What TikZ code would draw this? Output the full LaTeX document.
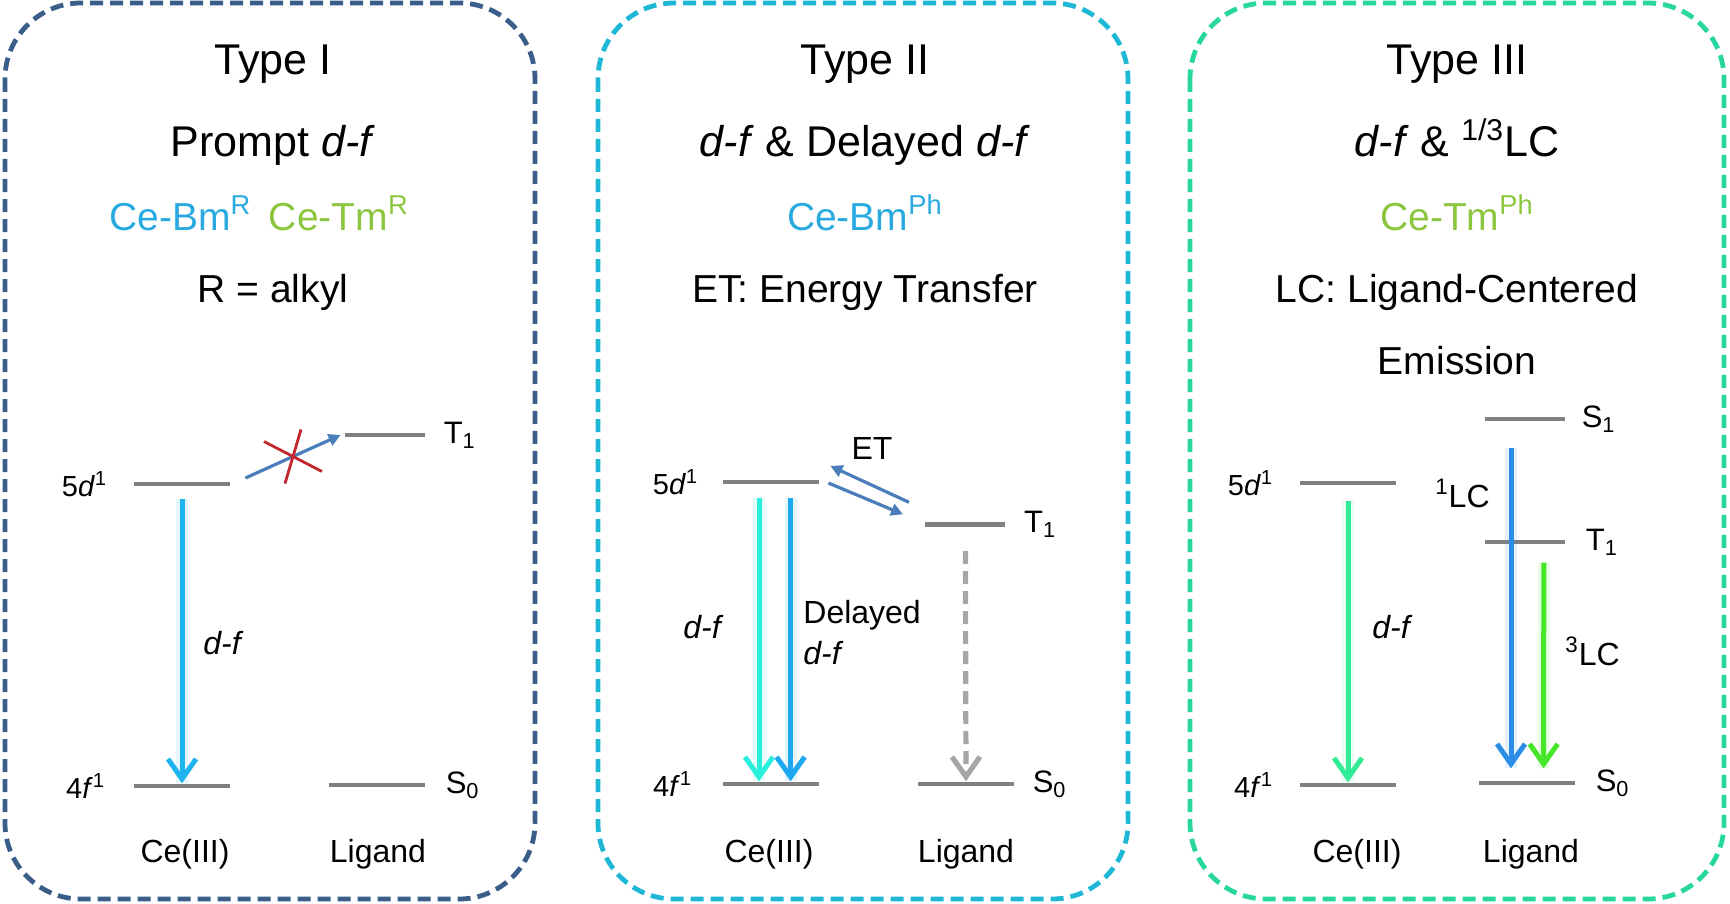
\documentclass[tikz,border=0pt]{standalone}
\usepackage{fontspec}
\setmainfont{Liberation Sans}
\usetikzlibrary{arrows.meta,positioning,calc}

\definecolor{boxone}{RGB}{58,93,138}
\definecolor{boxtwo}{RGB}{30,184,214}
\definecolor{boxthree}{RGB}{40,214,160}
\definecolor{bmblue}{RGB}{40,170,225}
\definecolor{tmgreen}{RGB}{140,198,63}
\definecolor{lvlgray}{RGB}{128,128,128}
\definecolor{nrgray}{RGB}{166,166,166}
\definecolor{etblue}{RGB}{74,126,187}
\definecolor{xred}{RGB}{192,40,45}
\definecolor{dfblue}{RGB}{30,180,240}
\definecolor{dfcyan}{RGB}{40,240,220}
\definecolor{dlblue}{RGB}{30,168,240}
\definecolor{dfgreen}{RGB}{50,235,150}
\definecolor{lcblue}{RGB}{45,140,230}
\definecolor{lcgreen}{RGB}{70,230,40}

\tikzset{
  frame/.style={draw=#1, line width=2.4pt, dash pattern=on 6.5pt off 3.5pt, rounded corners=38pt},
  lvl/.style={fill=lvlgray, inner sep=0pt, minimum height=2.3pt, minimum width=#1},
  title/.style={font=\fontsize{21.5}{25}\selectfont, anchor=base},
  sub/.style={font=\fontsize{19.5}{23}\selectfont, anchor=base},
  lbl/.style={font=\fontsize{16}{20.5}\selectfont, inner sep=0pt},
  st/.style={font=\fontsize{15.5}{19}\selectfont, inner sep=0pt},
  orb/.style={font=\fontsize{14.5}{18}\selectfont, inner sep=0pt},
  emit/.style={draw=#1, line width=2.5pt, -{Straight Barb[length=10pt,width=14pt]},
    preaction={draw=#1, line width=6pt, opacity=0.12, -}},
  etarr/.style={draw=etblue, line width=1.6pt, -{Triangle[length=6pt,width=6pt]}},
  nonrad/.style={draw=nrgray, line width=2.6pt, dash pattern=on 6.5pt off 3.5pt,
    -{Straight Barb[length=10pt,width=14pt]}},
  noway/.style={draw=xred, line width=1.4pt},
}

\begin{document}
\begin{tikzpicture}[x=0.5pt, y=-0.5pt]
\useasboundingbox (0,0) rectangle (1730,904);

% panels
\draw[frame=boxone] (5,3) rectangle (535,899);
\draw[frame=boxtwo] (598,3) rectangle (1128,899);
\draw[frame=boxthree] (1190,3) rectangle (1724,899);

% Type I
\node[title] (ta) at (273,75) {Type I};
\node[title] (pa) at (273,156) {Prompt \textit{d-f}};
\node[sub] (ca) at (259,230) {\textcolor{bmblue}{Ce-Bm\textsuperscript{R}}\hspace{0.45em}\textcolor{tmgreen}{Ce-Tm\textsuperscript{R}}};
\node[sub] (ra) at (273,302) {R = alkyl};

\node[lvl=48pt] (d5a) at (182,484) {};
\node[lvl=40pt] (t1a) at (385,435) {};
\node[lvl=48pt] (f4a) at (182,786) {};
\node[lvl=48pt] (s0a) at (377,785) {};
\node[orb, left=13pt of d5a] {5\textit{d}\textsuperscript{1}};
\node[orb, left=14pt of f4a] {4\textit{f}\textsuperscript{1}};
\node[st, right=9pt of t1a] {T\textsubscript{1}};
\node[st, right=10pt of s0a] {S\textsubscript{0}};
\node[lbl, anchor=base] (cea) at (185,862) {Ce(III)};
\node[lbl, anchor=base] (lga) at (378,862) {Ligand};

\draw[emit=dfblue] ([yshift=-6pt]d5a.south) -- (f4a.north);
\node[lbl, anchor=base west] at (203,654) {\textit{d-f}};
\draw[etarr] ($(d5a.east)+(15,-6)$) -- coordinate[pos=0.5] (xa) ($(t1a.west)+(-4,0)$);
\draw[noway] ($(xa)+(-29,-15)$) -- ($(xa)+(29,15)$)
  ($(xa)+(8,-27)$) -- ($(xa)+(-8,27)$);

% Type II
\node[title] (tb) at (865,75) {Type II};
\node[title] (pb) at (865,156) {\textit{d-f} \& Delayed \textit{d-f}};
\node[sub, text=bmblue] (cb) at (865,230) {Ce-Bm\textsuperscript{Ph}};
\node[sub] (eb) at (865,302) {ET: Energy Transfer};

\node[lvl=48pt] (d5b) at (771,482) {};
\node[lvl=40pt] (t1b) at (965.4,524.3) {};
\node[lvl=48pt] (f4b) at (771,784) {};
\node[lvl=48pt] (s0b) at (966,784) {};
\node[orb, left=12pt of d5b] {5\textit{d}\textsuperscript{1}};
\node[orb, left=15pt of f4b] {4\textit{f}\textsuperscript{1}};
\node[st, right=9pt of t1b] {T\textsubscript{1}};
\node[st, right=9pt of s0b] {S\textsubscript{0}};
\node[lbl, anchor=base] (ceb) at (769,862) {Ce(III)};
\node[lbl, anchor=base] (lgb) at (966,862) {Ligand};

\draw[emit=dfcyan] ([xshift=-6pt,yshift=-6.5pt]d5b.south) -- ([xshift=-6pt]f4b.north);
\draw[emit=dlblue] ([xshift=9.8pt,yshift=-6.5pt]d5b.south) -- ([xshift=9.8pt]f4b.north);
\draw[etarr] ($(t1b.west)+(-16,-22)$) -- ($(d5b.east)+(11,-16)$);
\draw[etarr] ($(d5b.east)+(9,1)$) -- ($(t1b.west)+(-22,-10)$);
\node[lbl] at (872,448) {ET};
\draw[nonrad] ([yshift=-12pt]t1b.south) -- (s0b.north);
\node[lbl, anchor=base west] at (683,638) {\textit{d-f}};
\node[lbl, anchor=north west, align=left] at (803,600) {Delayed\\\textit{d-f}};

% Type III
\node[title] (tc) at (1457,75) {Type III};
\node[title] (pc) at (1457,156) {\textit{d-f} \& \textsuperscript{1/3}LC};
\node[sub, text=tmgreen] (cc) at (1457,230) {Ce-Tm\textsuperscript{Ph}};
\node[sub] (lc) at (1457,302) {LC: Ligand-Centered};
\node[sub] (ec) at (1457,374) {Emission};

\node[lvl=48pt] (d5c) at (1348,483) {};
\node[lvl=48pt] (f4c) at (1348,785) {};
\node[lvl=40pt] (s1c) at (1525,419) {};
\node[lvl=40pt] (t1c) at (1525,542) {};
\node[lvl=48pt] (s0c) at (1527,783) {};
\node[orb, left=13pt of d5c] {5\textit{d}\textsuperscript{1}};
\node[orb, left=13pt of f4c] {4\textit{f}\textsuperscript{1}};
\node[st, right=8pt of s1c] {S\textsubscript{1}};
\node[st, right=10pt of t1c] {T\textsubscript{1}};
\node[st, right=10pt of s0c] {S\textsubscript{0}};
\node[lbl, anchor=base] (cec) at (1357,862) {Ce(III)};
\node[lbl, anchor=base] (lgc) at (1531,862) {Ligand};

\draw[emit=dfgreen] ([yshift=-7.5pt]d5c.south) -- (f4c.north);
\draw[emit=lcblue] ([xshift=-7pt,yshift=-13pt]s1c.south) -- ([xshift=-8pt,yshift=6pt]s0c.north);
\draw[emit=lcgreen] ([xshift=9.4pt,yshift=-9pt]t1c.south) -- ([xshift=8.3pt,yshift=6pt]s0c.north);
\node[lbl, anchor=base west] at (1372,638) {\textit{d-f}};
\node[lbl, anchor=base east] at (1490,507) {\textsuperscript{1}LC};
\node[lbl, anchor=base west] at (1565,665) {\textsuperscript{3}LC};
\end{tikzpicture}
\end{document}
